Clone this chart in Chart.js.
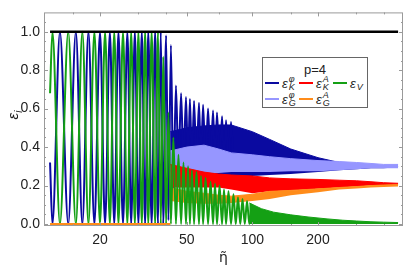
<!DOCTYPE html>
<html>
<head>
<meta charset="utf-8">
<script src="https://cdn.jsdelivr.net/npm/chart.js@4.4.1/dist/chart.umd.min.js"></script>
<style>
body { margin: 0; background: #fff; }
#wrap { position: relative; width: 409px; height: 268px; font-family: "Liberation Sans", Arial, sans-serif; color: #222; }
#ylab { position: absolute; left: 0px; top: 105px; width: 26px; height: 20px; line-height: 20px; text-align: center; font-size: 15px; transform: rotate(-90deg); }
#ylab sub { font-size: 10px; font-style: italic; }
#legend { position: absolute; left: 262px; top: 57px; width: 104px; height: 49px; border: 1px solid #666; background: #fff; }
#legend .ttl { position: absolute; left: 0; width: 104px; top: 4px; text-align: center; font-size: 13px; }
#legend .sw { position: absolute; width: 14px; height: 2px; }
#legend .lab { position: absolute; height: 18px; display: flex; align-items: center; }
#legend .e { font-size: 13px; font-style: italic; line-height: 13px; }
#legend .st { display: flex; flex-direction: column; font-size: 9px; line-height: 8px; font-style: italic; margin-left: 1px; }
</style>
</head>
<body>
<div id="wrap">
  <canvas id="myChart" width="409" height="268"></canvas>
  <div id="ylab"><i>ε</i><sub>i</sub></div>
  <div id="legend">
    <div class="ttl">p=4</div>
    <div class="sw" style="left:2px;top:24px;background:#0a0aa0"></div>
    <div class="lab" style="left:19px;top:16px"><span class="e">ε</span><span class="st"><span>φ</span><span>K</span></span></div>
    <div class="sw" style="left:36px;top:24px;background:#ff0000"></div>
    <div class="lab" style="left:53px;top:16px"><span class="e">ε</span><span class="st"><span>A</span><span>K</span></span></div>
    <div class="sw" style="left:70px;top:24px;background:#14a014"></div>
    <div class="lab" style="left:87px;top:16px"><span class="e">ε</span><span class="st" style="margin-top:7px"><span>V</span></span></div>
    <div class="sw" style="left:2px;top:40px;background:#9696ff"></div>
    <div class="lab" style="left:19px;top:32px"><span class="e">ε</span><span class="st"><span>φ</span><span>G</span></span></div>
    <div class="sw" style="left:36px;top:40px;background:#ff8c1a"></div>
    <div class="lab" style="left:53px;top:32px"><span class="e">ε</span><span class="st"><span>A</span><span>G</span></span></div>
  </div>
</div>
<script>
// tick labels / tick marks
let xLabels = [20, 50, 100, 200]
let xMinor = [15, 30, 40, 70, 150, 300, 400]
let yLabels = [0, 0.2, 0.4, 0.6, 0.8, 1.0]
let yMinor = [0.05, 0.1, 0.15, 0.25, 0.3, 0.35, 0.45, 0.5, 0.55, 0.65, 0.7, 0.75, 0.85, 0.9, 0.95, 1.05]

// eps_K^phi : extrema (coherent oscillation, then spikes)
let kPhiEta = [11.8, 12.1, 13.1, 14.3, 15.5, 16.6, 17.7, 18.85, 20.0, 21.1, 22.2, 23.25, 24.3, 25.5, 26.7, 27.8, 28.9, 30.0, 31.1, 32.2, 33.3, 34.5, 35.8, 36.9, 38.0, 39.0,
  40.2, 41.2, 42.3, 43.4, 44.6, 45.8, 47.1, 48.3, 49.6, 50.7, 51.7, 52.8, 54.0, 55.4, 56.9, 58.1, 59.4, 61.0, 62.6, 64.3, 66.0, 67.4, 68.8, 70.7, 72.6, 74.1, 75.7, 77.7, 79.8, 81.9]
let kPhiVal = [0.32, 0, 1, 0, 1, 0, 1, 0, 1, 0, 1, 0, 1, 0, 1, 0, 1, 0, 1, 0, 1, 0, 1, 0, 1, 0,
  0.98, 0.02, 0.93, 0.15, 0.72, 0.3, 0.68, 0.3, 0.66, 0.3, 0.65, 0.3, 0.64, 0.3, 0.63, 0.3, 0.62, 0.3, 0.60, 0.3, 0.59, 0.3, 0.58, 0.3, 0.56, 0.3, 0.54, 0.3, 0.53, 0.3]

// eps_V
let vEta = [11.8, 12.1, 13.1, 14.3, 15.5, 16.6, 17.7, 18.85, 20.0, 21.1, 22.2, 23.25, 24.3, 25.5, 26.7, 27.8, 28.9, 30.0, 31.1, 32.2, 33.3, 34.5, 35.8, 36.9, 38.0, 39.0,
  40.2, 41.2, 42.3, 43.4, 44.6, 45.8, 47.1, 48.3, 49.6, 50.7, 51.7, 52.8, 54.0, 55.4, 56.9, 58.1, 59.4, 61.0, 62.6, 64.3, 66.0, 67.4, 68.8, 70.7, 72.6, 74.1, 75.7, 77.7, 79.8, 81.9,
  83.9, 85.9, 88.0, 90.1, 92.3, 94.5, 96.8, 99.1]
let vVal = [0.68, 1, 0, 1, 0, 1, 0, 1, 0, 1, 0, 1, 0, 1, 0, 1, 0, 1, 0, 1, 0, 1, 0, 1, 0, 0.87,
  0, 0.58, 0, 0.45, 0, 0.36, 0, 0.32, 0, 0.30, 0, 0.28, 0, 0.27, 0, 0.25, 0, 0.24, 0, 0.22, 0, 0.21, 0, 0.2, 0, 0.18, 0, 0.17, 0, 0.155,
  0, 0.14, 0, 0.13, 0, 0.12, 0, 0.105]
let vBandEta = [96.8, 110, 125, 150, 180, 220, 260, 300, 350, 400, 466]
let vBandHi = [0.11, 0.08, 0.062, 0.048, 0.037, 0.027, 0.02, 0.016, 0.012, 0.01, 0.008]

// dense part: envelopes of the fast oscillations
let bandEta = [42, 50, 60, 70, 80, 100, 120, 150, 200, 250, 300, 350, 400, 466]
let kPhiHi = [0.48, 0.5, 0.51, 0.515, 0.515, 0.48, 0.44, 0.39, 0.345, 0.32, 0.31, 0.305, 0.3, 0.3]
let kPhiLo = [0.3, 0.28, 0.25, 0.245, 0.245, 0.25, 0.255, 0.26, 0.27, 0.28, 0.285, 0.29, 0.29, 0.295]
let gPhiHi = [0.38, 0.4, 0.41, 0.39, 0.37, 0.36, 0.35, 0.34, 0.33, 0.325, 0.32, 0.315, 0.31, 0.31]
let gPhiLo = [0.27, 0.27, 0.265, 0.265, 0.27, 0.27, 0.27, 0.275, 0.275, 0.28, 0.285, 0.29, 0.29, 0.29]
let kAHi = [0.31, 0.29, 0.27, 0.26, 0.255, 0.25, 0.24, 0.235, 0.232, 0.228, 0.225, 0.22, 0.215, 0.212]
let kALo = [0.19, 0.19, 0.19, 0.19, 0.18, 0.16, 0.17, 0.175, 0.183, 0.19, 0.195, 0.2, 0.203, 0.205]
let gAHi = [0.19, 0.17, 0.16, 0.15, 0.145, 0.155, 0.17, 0.175, 0.183, 0.19, 0.195, 0.2, 0.203, 0.205]
let gALo = [0.12, 0.11, 0.105, 0.105, 0.11, 0.12, 0.13, 0.15, 0.165, 0.18, 0.185, 0.19, 0.193, 0.195]

// eps_G^A is zero before the transition, total is 1
let gA0Eta = [11.8, 42]
let gA0Val = [0, 0]
let totEta = [11.8, 466]
let totVal = [1, 1]

const C_KPHI = '#0a0aa0', C_GPHI = '#9696ff', C_KA = '#ff0000', C_GA = '#ff8c1a', C_V = '#14a014'

function pts(eta, val) {
  return eta.map((e, i) => ({ x: e, y: val[i] }))
}
function line(eta, val, color, w, order) {
  return { data: pts(eta, val), borderColor: color, borderWidth: w, pointRadius: 0, fill: false,
    cubicInterpolationMode: 'monotone', order: order }
}
function band(lo, hi, color, order) {
  return [
    { data: pts(bandEta, lo), borderColor: 'rgba(0,0,0,0)', borderWidth: 1, pointRadius: 0, fill: false, order: order },
    { data: pts(bandEta, hi), borderColor: color, borderWidth: 1, backgroundColor: color, pointRadius: 0, fill: '-1', order: order }
  ]
}

const frame = {
  id: 'frame',
  afterDatasetsDraw(chart) {
    const ctx = chart.ctx, a = chart.chartArea
    const sx = chart.scales.x, sy = chart.scales.y
    ctx.save()
    ctx.strokeStyle = '#9a9a9a'
    ctx.lineWidth = 1
    ctx.beginPath()
    const tx = (v, len) => {
      const p = Math.round(sx.getPixelForValue(v)) + 0.5
      ctx.moveTo(p, a.bottom); ctx.lineTo(p, a.bottom - len)
      ctx.moveTo(p, a.top); ctx.lineTo(p, a.top + len)
    }
    const ty = (v, len) => {
      const p = Math.round(sy.getPixelForValue(v)) + 0.5
      ctx.moveTo(a.left, p); ctx.lineTo(a.left + len, p)
      ctx.moveTo(a.right, p); ctx.lineTo(a.right - len, p)
    }
    xLabels.forEach(v => tx(v, 4))
    xMinor.forEach(v => tx(v, 2))
    yLabels.forEach(v => ty(v, 4))
    yMinor.forEach(v => ty(v, 2))
    ctx.stroke()
    ctx.strokeRect(a.left + 0.5, a.top + 0.5, a.width - 1, a.height - 1)
    ctx.restore()
  }
}

let datasets = [
  line(totEta, totVal, '#000000', 2.5, 0),
  line(gA0Eta, gA0Val, C_GA, 2, 1),
  line(vEta, vVal, C_V, 2, 2),
  { data: pts(vBandEta, vBandHi), borderColor: C_V, borderWidth: 1, backgroundColor: C_V, pointRadius: 0, fill: 'origin', order: 3 },
  ...band(gALo, gAHi, C_GA, 4),
  ...band(kALo, kAHi, C_KA, 5),
  ...band(gPhiLo, gPhiHi, C_GPHI, 6),
  line(kPhiEta, kPhiVal, C_KPHI, 2, 7),
  ...band(kPhiLo, kPhiHi, C_KPHI, 8)
]

let chart = new Chart(document.getElementById('myChart'), {
  type: 'line',
  data: { datasets: datasets },
  plugins: [frame],
  options: {
    responsive: false,
    animation: false,
    layout: { padding: { top: 3, right: 6, left: 0, bottom: 0 } },
    plugins: { legend: { display: false }, tooltip: { enabled: false } },
    scales: {
      x: {
        type: 'logarithmic', min: 11.07, max: 490.8,
        grid: { display: false, drawTicks: false },
        border: { display: false },
        afterBuildTicks: s => { s.ticks = xLabels.map(v => ({ value: v })) },
        afterFit: s => { s.height = 42 },
        ticks: { padding: 6, maxRotation: 0, autoSkip: false, color: '#222',
          font: { family: 'Liberation Sans', size: 14 }, callback: v => String(v) },
        title: { display: true, text: 'η\u0303', color: '#222', padding: { top: 0, bottom: 1 },
          font: { family: 'DejaVu Sans', size: 14 } }
      },
      y: {
        min: -0.01, max: 1.1,
        grid: { display: false, drawTicks: false },
        border: { display: false },
        afterBuildTicks: s => { s.ticks = yLabels.map(v => ({ value: v })) },
        afterFit: s => { s.width = 44 },
        ticks: { padding: 4, color: '#222', font: { family: 'Liberation Sans', size: 14 },
          callback: v => v.toFixed(1) }
      }
    }
  }
})
</script>
</body>
</html>
